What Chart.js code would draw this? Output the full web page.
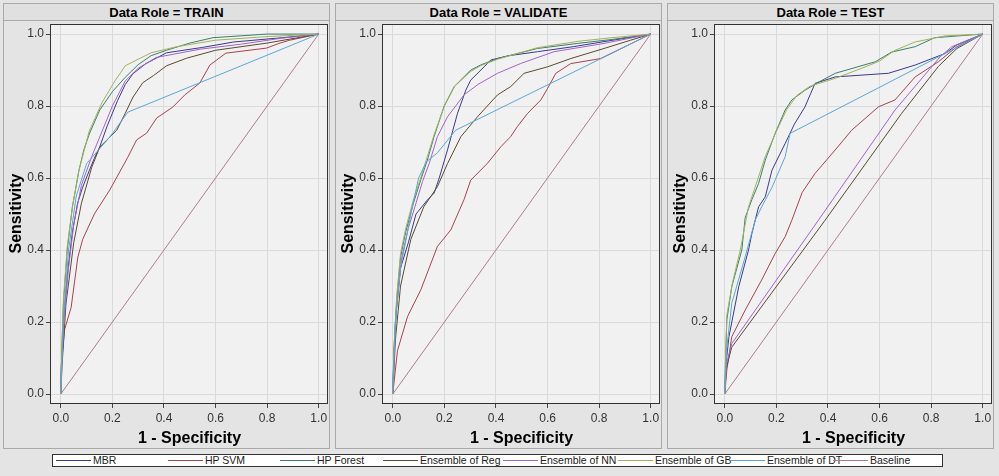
<!DOCTYPE html>
<html>
<head>
<meta charset="utf-8">
<script src="https://cdn.jsdelivr.net/npm/chart.js@4.4.1/dist/chart.umd.min.js"></script>
<style>
  html,body{margin:0;padding:0;}
  body{width:999px;height:476px;background:#e4e4e4;position:relative;overflow:hidden;font-family:"Liberation Sans",Arial,sans-serif;}
  .panel{position:absolute;top:3px;width:325px;height:444px;border:1px solid #a9a9a9;background:#e4e4e4;}
  .hdr{position:absolute;left:0;top:0;width:325px;height:16px;border-bottom:1px solid #a9a9a9;background:#e0e0e0;
       font-weight:bold;font-size:13px;line-height:17px;text-align:center;color:#000;}
  canvas{position:absolute;left:0;top:17px;}
  #legend{position:absolute;left:52px;top:454px;width:889px;height:11px;border:1px solid #333;background:#fff;}
  .li{position:absolute;top:0;height:11px;font-size:10.5px;line-height:11px;color:#222;white-space:nowrap;}
  .li span.ln{position:absolute;top:5px;height:1px;}
  .li span.tx{position:absolute;top:0;}
</style>
</head>
<body>
<div class="panel" id="p0" style="left:3px;"><div class="hdr">Data Role = TRAIN</div><canvas id="c0" width="325" height="427"></canvas></div>
<div class="panel" id="p1" style="left:335px;"><div class="hdr">Data Role = VALIDATE</div><canvas id="c1" width="325" height="427"></canvas></div>
<div class="panel" id="p2" style="left:667px;"><div class="hdr">Data Role = TEST</div><canvas id="c2" width="325" height="427"></canvas></div>
<div id="legend"></div>
<script>
// ---- Data (x = 1 - Specificity, y = Sensitivity) ----
const seriesNames = ["MBR","HP SVM","HP Forest","Ensemble of Reg","Ensemble of NN","Ensemble of GB","Ensemble of DT","Baseline"];
const panelTitles = ["TRAIN","VALIDATE","TEST"];
const tickValues = [0,0.2,0.4,0.6,0.8,1.0];

const trainMBR = [[0,0],[0.003,0.08],[0.01,0.2],[0.025,0.33],[0.045,0.45],[0.065,0.53],[0.085,0.575],[0.11,0.62],[0.13,0.655],[0.15,0.685],[0.18,0.745],[0.22,0.815],[0.25,0.86],[0.28,0.89],[0.33,0.918],[0.41,0.948],[0.55,0.963],[0.67,0.978],[0.86,0.99],[1,1]];
const trainSVM = [[0,0],[0.002,0.08],[0.015,0.18],[0.04,0.24],[0.066,0.38],[0.085,0.43],[0.13,0.5],[0.19,0.567],[0.26,0.658],[0.294,0.706],[0.333,0.725],[0.372,0.767],[0.434,0.797],[0.481,0.831],[0.539,0.864],[0.578,0.914],[0.64,0.947],[0.797,0.961],[0.85,0.975],[0.888,0.983],[1,1]];
const trainForest = [[0,0],[0.003,0.1],[0.01,0.25],[0.025,0.4],[0.045,0.52],[0.07,0.62],[0.09,0.68],[0.112,0.725],[0.151,0.789],[0.2,0.84],[0.25,0.88],[0.3,0.915],[0.35,0.94],[0.41,0.955],[0.5,0.975],[0.59,0.99],[0.8,1.0],[1,1]];
const trainReg = [[0,0],[0.005,0.08],[0.02,0.25],[0.05,0.42],[0.08,0.53],[0.12,0.63],[0.151,0.686],[0.217,0.733],[0.25,0.78],[0.28,0.825],[0.318,0.865],[0.36,0.885],[0.41,0.912],[0.488,0.933],[0.6,0.955],[0.8,0.975],[1,1]];
const trainNN = [[0,0],[0.003,0.08],[0.012,0.2],[0.03,0.35],[0.05,0.47],[0.08,0.58],[0.12,0.66],[0.16,0.73],[0.2,0.8],[0.25,0.87],[0.3,0.905],[0.37,0.935],[0.54,0.958],[0.7,0.972],[0.85,0.988],[1,1]];
const trainGB = [[0,0],[0.003,0.1],[0.01,0.26],[0.025,0.41],[0.045,0.52],[0.07,0.62],[0.11,0.73],[0.16,0.81],[0.21,0.87],[0.25,0.912],[0.3,0.93],[0.35,0.948],[0.45,0.965],[0.6,0.983],[0.8,0.993],[1,1]];
const trainDT = [[0,0],[0.01,0.2],[0.03,0.4],[0.06,0.55],[0.1,0.64],[0.19,0.714],[0.26,0.783],[1,1]];
const trainBase = [[0,0],[1,1]];

const valMBR = [[0,0],[0.004,0.1],[0.012,0.22],[0.03,0.35],[0.06,0.42],[0.09,0.5],[0.134,0.539],[0.16,0.558],[0.18,0.6],[0.212,0.678],[0.251,0.78],[0.283,0.844],[0.302,0.872],[0.354,0.909],[0.38,0.928],[0.45,0.94],[0.561,0.951],[0.7,0.965],[0.819,0.979],[1,1]];
const valSVM = [[0,0],[0.018,0.12],[0.057,0.215],[0.109,0.29],[0.173,0.41],[0.225,0.456],[0.276,0.54],[0.302,0.594],[0.367,0.641],[0.419,0.687],[0.457,0.715],[0.483,0.743],[0.522,0.779],[0.574,0.817],[0.6,0.849],[0.632,0.891],[0.69,0.918],[0.806,0.932],[1,1]];
const valForest = [[0,0],[0.004,0.12],[0.015,0.26],[0.03,0.38],[0.05,0.45],[0.08,0.53],[0.108,0.594],[0.134,0.65],[0.16,0.715],[0.199,0.8],[0.238,0.854],[0.302,0.9],[0.34,0.914],[0.406,0.932],[0.561,0.96],[0.716,0.974],[0.85,0.985],[1,1]];
const valReg = [[0,0],[0.01,0.15],[0.03,0.3],[0.07,0.43],[0.12,0.52],[0.173,0.576],[0.212,0.64],[0.264,0.715],[0.328,0.77],[0.406,0.831],[0.457,0.854],[0.509,0.891],[0.6,0.909],[0.69,0.932],[0.819,0.96],[0.922,0.983],[1,1]];
const valNN = [[0,0],[0.004,0.1],[0.015,0.25],[0.035,0.38],[0.06,0.46],[0.09,0.53],[0.115,0.59],[0.141,0.64],[0.173,0.715],[0.212,0.77],[0.276,0.831],[0.33,0.86],[0.406,0.891],[0.495,0.918],[0.625,0.951],[0.819,0.974],[1,1]];
const valGB = [[0,0],[0.004,0.12],[0.015,0.27],[0.03,0.39],[0.05,0.46],[0.08,0.54],[0.108,0.6],[0.134,0.66],[0.16,0.72],[0.2,0.8],[0.24,0.855],[0.3,0.895],[0.34,0.912],[0.406,0.93],[0.56,0.962],[0.72,0.98],[0.85,0.99],[1,1]];
const valDT = [[0,0],[0.01,0.2],[0.03,0.35],[0.07,0.5],[0.1,0.6],[0.13,0.645],[0.173,0.67],[0.244,0.733],[1,1]];
const valBase = [[0,0],[1,1]];

const testMBR = [[0,0],[0.004,0.08],[0.016,0.159],[0.054,0.298],[0.092,0.4],[0.105,0.446],[0.131,0.52],[0.157,0.548],[0.183,0.622],[0.234,0.696],[0.27,0.75],[0.311,0.798],[0.333,0.835],[0.35,0.863],[0.428,0.881],[0.634,0.891],[0.738,0.914],[0.854,0.946],[0.9,0.97],[1,1]];
const testSVM = [[0,0],[0.008,0.067],[0.027,0.159],[0.079,0.233],[0.143,0.317],[0.195,0.39],[0.234,0.437],[0.26,0.483],[0.3,0.56],[0.35,0.613],[0.428,0.678],[0.492,0.733],[0.596,0.798],[0.66,0.817],[0.738,0.881],[0.828,0.923],[0.9,0.965],[1,1]];
const testForest = [[0,0],[0.003,0.1],[0.008,0.206],[0.027,0.298],[0.066,0.4],[0.079,0.49],[0.105,0.54],[0.131,0.585],[0.157,0.65],[0.195,0.724],[0.234,0.789],[0.26,0.817],[0.311,0.844],[0.36,0.865],[0.428,0.891],[0.583,0.923],[0.647,0.95],[0.738,0.965],[0.814,0.99],[1,1]];
const testReg = [[0,0],[0.005,0.07],[0.027,0.13],[0.389,0.483],[0.686,0.78],[0.828,0.91],[0.9,0.96],[1,1]];
const testNN = [[0,0],[0.005,0.08],[0.027,0.14],[0.363,0.483],[0.66,0.789],[0.835,0.937],[0.88,0.965],[1,1]];
const testGB = [[0,0],[0.003,0.1],[0.008,0.22],[0.03,0.31],[0.06,0.4],[0.092,0.52],[0.12,0.58],[0.157,0.66],[0.2,0.73],[0.24,0.79],[0.28,0.83],[0.33,0.855],[0.428,0.877],[0.531,0.905],[0.6,0.925],[0.66,0.955],[0.738,0.978],[0.854,0.995],[1,1]];
const testDT = [[0,0],[0.008,0.13],[0.027,0.252],[0.079,0.381],[0.118,0.483],[0.143,0.52],[0.183,0.574],[0.234,0.659],[0.253,0.724],[1,1]];
const testBase = [[0,0],[1,1]];

const seriesColors = ["#3a3a8c","#a5434d","#3b7f70","#5c4a2e","#a462cc","#a2b25c","#5aa7d8","#b37a8e"];

const panelData = [
  [trainMBR,trainSVM,trainForest,trainReg,trainNN,trainGB,trainDT,trainBase],
  [valMBR,valSVM,valForest,valReg,valNN,valGB,valDT,valBase],
  [testMBR,testSVM,testForest,testReg,testNN,testGB,testDT,testBase]
];

// ---- Rendering ----
const areaPlugin = {
  id: 'areaBox',
  beforeDraw(chart){
    const {ctx, chartArea:a} = chart;
    ctx.save();
    ctx.fillStyle = '#f1f1f1';
    ctx.fillRect(a.left, a.top, a.right - a.left, a.bottom - a.top);
    ctx.restore();
  },
  afterDraw(chart){
    const {ctx, chartArea:a} = chart;
    ctx.save();
    ctx.strokeStyle = '#333';
    ctx.lineWidth = 1;
    ctx.strokeRect(Math.round(a.left) - 0.5, Math.round(a.top) + 0.5, Math.round(a.right - a.left), Math.round(a.bottom - a.top));
    ctx.restore();
  }
};

const fixTicks = scale => { scale.ticks = tickValues.map(v => ({value: v})); };

panelData.forEach((sets, p) => {
  const datasets = sets.map((arr, i) => ({
    label: seriesNames[i],
    data: arr.map(([x, y]) => ({x, y})),
    borderColor: seriesColors[i],
    backgroundColor: seriesColors[i],
    borderWidth: 1,
    pointRadius: 0,
    showLine: true,
    fill: false,
    tension: 0
  })).reverse();
  new Chart(document.getElementById('c' + p), {
    type: 'scatter',
    data: { datasets },
    plugins: [areaPlugin],
    options: {
      responsive: false,
      animation: false,
      devicePixelRatio: 1,
      layout: { padding: { top: 3, right: 1, left: 0, bottom: 0 } },
      plugins: { legend: { display: false }, tooltip: { enabled: false } },
      scales: {
        x: {
          type: 'linear', min: -0.038, max: 1.036,
          afterBuildTicks: fixTicks,
          afterFit: s => { s.height = 45; s.paddingLeft = 0; s.paddingRight = 0; },
          grid: { color: '#dadada', tickColor: '#444', tickLength: 5, drawTicks: true },
          border: { display: false },
          ticks: { padding: 3, color: '#333', font: { family: 'Liberation Sans', size: 12 }, callback: v => Number(v).toFixed(1), maxRotation: 0 },
          title: { display: true, text: '1 - Specificity', color: '#000', font: { family: 'Liberation Sans', size: 16, weight: 'bold', lineHeight: 1.2 }, padding: { top: 1, bottom: 0 } }
        },
        y: {
          type: 'linear', min: -0.025, max: 1.028,
          afterBuildTicks: fixTicks,
          afterFit: s => { s.width = 47; s.paddingTop = 0; s.paddingBottom = 0; },
          grid: { color: '#dadada', tickColor: '#444', tickLength: 5, drawTicks: true },
          border: { display: false },
          ticks: { padding: 2, color: '#333', font: { family: 'Liberation Sans', size: 12 }, callback: v => Number(v).toFixed(1) },
          title: { display: true, text: 'Sensitivity', color: '#000', font: { family: 'Liberation Sans', size: 16, weight: 'bold', lineHeight: 1.2 }, padding: { top: 3, bottom: 0 } }
        }
      }
    }
  });
});

// ---- Legend ----
const legendLineX = [56,168,280,383,503,618,730,833];
const legend = document.getElementById('legend');
seriesNames.forEach((name, i) => {
  const item = document.createElement('div');
  item.className = 'li';
  item.style.left = (legendLineX[i] - 53) + 'px';
  const ln = document.createElement('span');
  ln.className = 'ln';
  ln.style.left = '0px';
  ln.style.width = '35px';
  ln.style.background = seriesColors[i];
  const tx = document.createElement('span');
  tx.className = 'tx';
  tx.style.left = '37px';
  tx.textContent = name;
  item.appendChild(ln);
  item.appendChild(tx);
  legend.appendChild(item);
});
</script>
</body>
</html>
